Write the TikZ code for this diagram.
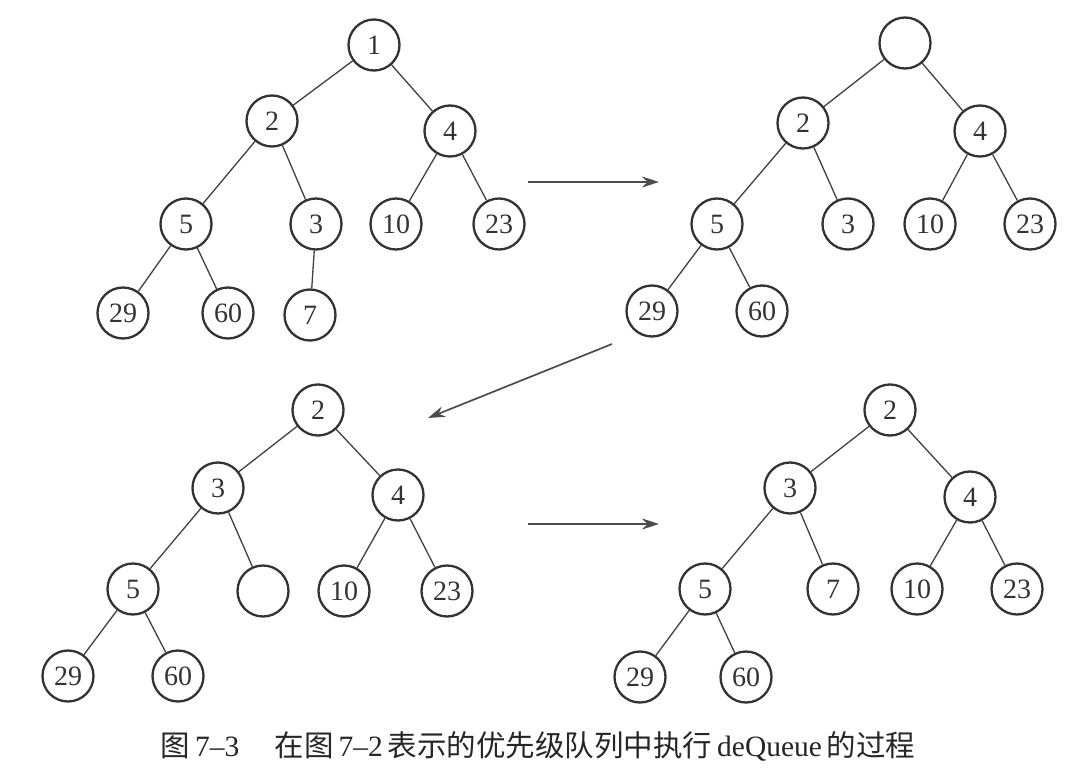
\documentclass[tikz,border=0pt]{standalone}
\usepackage{fontspec}
\setmainfont{Liberation Serif}
\newfontfamily\cjk{Noto Sans CJK SC}
\usetikzlibrary{arrows.meta}
\begin{document}
\begin{tikzpicture}[x=1pt,y=-1pt,
  hnode/.style={circle,draw=black!80,line width=2.3pt,minimum size=51pt,inner sep=0pt,
    font=\fontsize{28}{28}\selectfont,text=black!80},
  edge/.style={line width=1.3pt,draw=black!75},
  steparrow/.style={line width=1.7pt,draw=black!70,-{Stealth[length=17pt,width=11pt]}}]
\useasboundingbox (0,0) rectangle (1077,771);

% heap before deQueue
\node[hnode] (a1)  at (374,45)  {1};
\node[hnode] (a2)  at (272,121) {2};
\node[hnode] (a4)  at (450,131) {4};
\node[hnode] (a5)  at (186,224) {5};
\node[hnode] (a3)  at (316,224) {3};
\node[hnode] (a10) at (396,224) {10};
\node[hnode] (a23) at (499,224) {23};
\node[hnode] (a29) at (123,313) {29};
\node[hnode] (a60) at (228,313) {60};
\node[hnode] (a7)  at (310,315) {7};
\draw[edge] (a1)--(a2) (a1)--(a4) (a2)--(a5) (a2)--(a3) (a4)--(a10) (a4)--(a23)
  (a5)--(a29) (a5)--(a60) (a3)--(a7);

% root removed
\node[hnode] (b0)  at (905,43)  {};
\node[hnode] (b2)  at (803,123) {2};
\node[hnode] (b4)  at (980,131) {4};
\node[hnode] (b5)  at (717,224) {5};
\node[hnode] (b3)  at (848,224) {3};
\node[hnode] (b10) at (930,224) {10};
\node[hnode] (b23) at (1030,224) {23};
\node[hnode] (b29) at (652,311) {29};
\node[hnode] (b60) at (762,311) {60};
\draw[edge] (b0)--(b2) (b0)--(b4) (b2)--(b5) (b2)--(b3) (b4)--(b10) (b4)--(b23)
  (b5)--(b29) (b5)--(b60);

% hole moved down
\node[hnode] (c2)  at (318,410) {2};
\node[hnode] (c3)  at (218,488) {3};
\node[hnode] (c4)  at (398,495) {4};
\node[hnode] (c5)  at (133,589) {5};
\node[hnode] (c0)  at (263,591) {};
\node[hnode] (c10) at (344,591) {10};
\node[hnode] (c23) at (447,591) {23};
\node[hnode] (c29) at (68,676)  {29};
\node[hnode] (c60) at (178,676) {60};
\draw[edge] (c2)--(c3) (c2)--(c4) (c3)--(c5) (c3)--(c0) (c4)--(c10) (c4)--(c23)
  (c5)--(c29) (c5)--(c60);

% last element placed in the hole
\node[hnode] (d2)  at (890,410) {2};
\node[hnode] (d3)  at (790,488) {3};
\node[hnode] (d4)  at (970,497) {4};
\node[hnode] (d5)  at (705,589) {5};
\node[hnode] (d7)  at (833,589) {7};
\node[hnode] (d10) at (917,589) {10};
\node[hnode] (d23) at (1017,589) {23};
\node[hnode] (d29) at (640,677) {29};
\node[hnode] (d60) at (746,677) {60};
\draw[edge] (d2)--(d3) (d2)--(d4) (d3)--(d5) (d3)--(d7) (d4)--(d10) (d4)--(d23)
  (d5)--(d29) (d5)--(d60);

% step arrows
\coordinate (s1) at (528,182); \coordinate (e1) at (659,182);
\coordinate (s2) at (612,344); \coordinate (e2) at (428,418);
\coordinate (s3) at (528,524); \coordinate (e3) at (659,524);
\draw[steparrow] (s1) -- (e1);
\draw[steparrow] (s2) -- (e2);
\draw[steparrow] (s3) -- (e3);

% caption
\node[font=\fontsize{29.5}{30}\selectfont,text=black!85,inner sep=0pt] (cap) at (538,746)
  {{\cjk 图}\,7–3\hspace{1.2em}{\cjk 在图}\,7–2\,{\cjk 表示的优先级队列中执行}\,deQueue\,{\cjk 的过程}};
\end{tikzpicture}
\end{document}
